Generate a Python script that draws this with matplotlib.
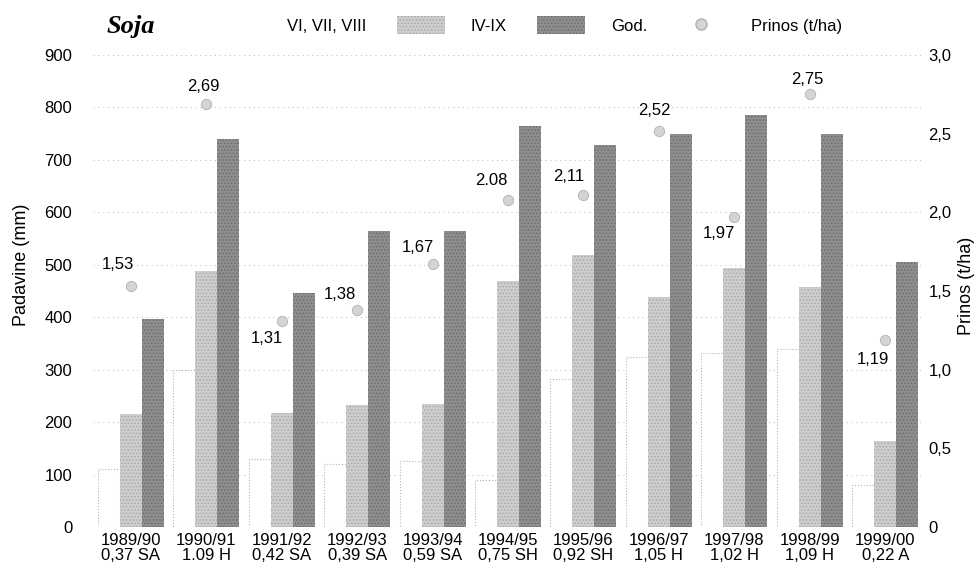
import numpy as np
import matplotlib
matplotlib.use('Agg')
import matplotlib.pyplot as plt
from matplotlib.patches import Patch
from matplotlib.lines import Line2D

plt.rcParams['font.family'] = ['Liberation Sans', 'DejaVu Sans']
plt.rcParams['hatch.linewidth'] = 0.6

# podaci
godine = ['1989/90', '1990/91', '1991/92', '1992/93', '1993/94', '1994/95',
          '1995/96', '1996/97', '1997/98', '1998/99', '1999/00']
oznake = ['0,37 SA', '1.09 H', '0,42 SA', '0,39 SA', '0,59 SA', '0,75 SH',
          '0,92 SH', '1,05 H', '1,02 H', '1,09 H', '0,22 A']
vi_viii = [110, 300, 130, 120, 125, 90, 282, 324, 331, 340, 80]
iv_ix = [216, 488, 217, 232, 234, 469, 518, 438, 493, 457, 164]
god = [396, 739, 446, 564, 564, 764, 728, 750, 785, 750, 505]
prinos = [1.53, 2.69, 1.31, 1.38, 1.67, 2.08, 2.11, 2.52, 1.97, 2.75, 1.19]
prinos_txt = ['1,53', '2,69', '1,31', '1,38', '1,67', '2.08', '2,11', '2,52',
              '1,97', '2,75', '1,19']

# pomaci natpisa (px)
pomaci = [(-13, 22), (-3, 17), (-15, -18), (-17, 15), (-15, 17), (-17, 19),
          (-15, 19), (-5, 20), (-15, -16), (-3, 15), (-12, -20)]

fig = plt.figure(figsize=(9.8, 5.7), dpi=100)
ax = fig.add_axes([93 / 980, 1 - 527 / 570, 830 / 980, 472 / 570])
ax2 = ax.twinx()

x = np.arange(len(godine))
w = 22 / 75.4

ax.bar(x - w, vi_viii, w, color='white', edgecolor='#b4b4b4', linewidth=0.8,
       linestyle=':', zorder=2)
ax.bar(x, iv_ix, w, color='#cdcdcd', edgecolor='#a6a6a6', linewidth=0,
       hatch='.....', zorder=2)
ax.bar(x + w, god, w, color='#8e8e8e', edgecolor='#6a6a6a', linewidth=0,
       hatch='.....', zorder=2)

ax.set_xlim(-0.5, len(godine) - 0.5)
ax.set_ylim(0, 900)
ax.set_yticks(range(0, 901, 100))
ax.set_xticks(x)
ax.set_xticklabels([g + '\n' + o for g, o in zip(godine, oznake)],
                   fontsize=12, linespacing=1.05)
ax.tick_params(axis='y', length=0, pad=15, labelsize=12)
ax.tick_params(axis='x', length=0, pad=4)
ax.yaxis.grid(True, color='#b8b8b8', linewidth=0.7, linestyle=(0, (1, 4)))
ax.set_axisbelow(True)
for s in ax.spines.values():
    s.set_visible(False)
ax.set_ylabel('Padavine (mm)', fontsize=13)
ax.yaxis.set_label_coords(-0.076, 0.555)

ax2.scatter(x, prinos, s=55, color='#d4d4d4', edgecolor='#b0b0b0',
            linewidth=0.6, zorder=3)
for xi, p, t, (dx, dy) in zip(x, prinos, prinos_txt, pomaci):
    ax2.annotate(t, (xi, p), xytext=(dx * 0.72, dy * 0.72),
                 textcoords='offset points', ha='center', va='center',
                 fontsize=12)
ax2.set_ylim(0, 3)
ax2.set_yticks([0, 0.5, 1, 1.5, 2, 2.5, 3])
ax2.set_yticklabels(['0', '0,5', '1,0', '1,5', '2,0', '2,5', '3,0'])
ax2.tick_params(axis='y', length=0, pad=4, labelsize=12)
for s in ax2.spines.values():
    s.set_visible(False)
ax2.set_ylabel('Prinos (t/ha)', fontsize=13)
ax2.yaxis.set_label_coords(1.042, 0.51)

fig.text(107 / 980, 1 - 27 / 570, 'Soja', family='Liberation Serif',
         weight='bold', style='italic', fontsize=19, va='center')

rucke = [
    Patch(facecolor='white', edgecolor='white', linewidth=0),
    Patch(facecolor='#cdcdcd', edgecolor='#a6a6a6', linewidth=0, hatch='.....'),
    Patch(facecolor='#8e8e8e', edgecolor='#6a6a6a', linewidth=0, hatch='.....'),
    Line2D([], [], linestyle='', marker='o', markersize=8,
           markerfacecolor='#d4d4d4', markeredgecolor='#b0b0b0'),
]
fig.legend(rucke, ['VI, VII, VIII', 'IV-IX', 'God.', 'Prinos (t/ha)'],
           loc='center left', bbox_to_anchor=(213 / 980, 1 - 25 / 570),
           ncol=4, frameon=False, fontsize=12, handlelength=2.9,
           handleheight=1.2, handletextpad=1.55, columnspacing=1.8,
           borderpad=0, borderaxespad=0)

fig.savefig('out.png', dpi=100)
